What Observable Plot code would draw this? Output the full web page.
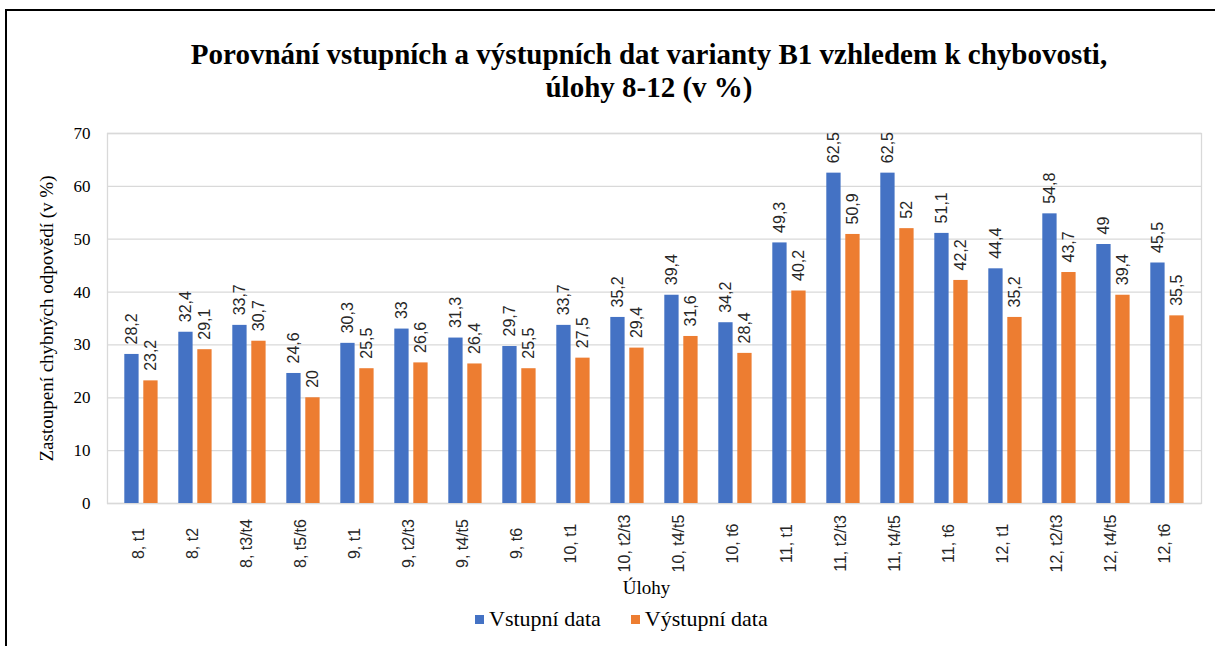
<!DOCTYPE html>
<html>
<head>
<meta charset="utf-8">
<script src="https://cdn.jsdelivr.net/npm/d3@7"></script>
<script src="https://cdn.jsdelivr.net/npm/@observablehq/plot@0.6"></script>
<style>
  html, body { margin: 0; padding: 0; background: #fff; }
  body { position: relative; width: 1215px; height: 646px; overflow: hidden; }
  #border { position: absolute; left: 5px; top: 9px; width: 1400px; height: 800px;
            border-left: 2px solid #000; border-top: 2px solid #000; }
  #title { position: absolute; top: 38px; left: 0; width: 1298px; text-align: center;
           font: bold 29px "Liberation Serif", serif; line-height: 33px; color: #000; }
  #chart { position: absolute; top: 120px; left: 0; }
  #chart svg { font-family: "Liberation Serif", serif !important; font-size: 17px !important; }
  #legend { position: absolute; top: 606px; left: 475px; display: flex; align-items: center;
            font-family: "Liberation Serif", serif; font-size: 22px; color: #000; }
  .item { display: flex; align-items: center; margin-right: 30px; }
  .sw { width: 9px; height: 9px; margin-right: 5px; }
</style>
</head>
<body>
<div id="border"></div>
<div id="title">Porovnání vstupních a výstupních dat varianty B1 vzhledem k chybovosti,<br>úlohy 8-12 (v %)</div>
<div id="chart"></div>
<div id="legend"></div>
<script>
const categories = ["8, t1","8, t2","8, t3/t4","8, t5/t6","9, t1","9, t2/t3","9, t4/t5","9, t6","10, t1","10, t2/t3","10, t4/t5","10, t6","11, t1","11, t2/t3","11, t4/t5","11, t6","12, t1","12, t2/t3","12, t4/t5","12, t6"];
const seriesNames = ["Vstupní data", "Výstupní data"];
const vstupni = [28.2,32.4,33.7,24.6,30.3,33,31.3,29.7,33.7,35.2,39.4,34.2,49.3,62.5,62.5,51.1,44.4,54.8,49,45.5];
const vystupni = [23.2,29.1,30.7,20,25.5,26.6,26.4,25.5,27.5,29.4,31.6,28.4,40.2,50.9,52,42.2,35.2,43.7,39.4,35.5];
const yTicks = [0,10,20,30,40,50,60,70];
const colors = ["#4472C4", "#ED7D31"];
const yTitle = "Zastoupení chybných odpovědí (v %)";
const xTitle = "Úlohy";

const fmt = d => String(d).replace(".", ",");
const sans = "Liberation Sans, Arial, sans-serif";
const serif = "Liberation Serif, serif";

const chart = Plot.plot({
  width: 1215,
  height: 490,
  marginLeft: 107,
  marginRight: 14,
  marginTop: 13,
  marginBottom: 107,
  style: { background: "transparent", color: "#000" },
  x: { type: "band", domain: categories, padding: 0, axis: null },
  y: { domain: [0, 70], ticks: yTicks, tickSize: 0, tickPadding: 17, label: null },
  marks: [
    Plot.ruleY(yTicks, { stroke: "#d9d9d9", strokeWidth: 1.3 }),
    Plot.frame({ stroke: "#d9d9d9", strokeWidth: 1.3 }),
    Plot.barY(vstupni, { x: categories, y: vstupni, fill: colors[0], insetLeft: 10.3, insetRight: 29.4 }),
    Plot.barY(vystupni, { x: categories, y: vystupni, fill: colors[1], insetLeft: 29.3, insetRight: 10.4 }),
    Plot.text(vstupni, { x: categories, y: vstupni, text: fmt, rotate: -90, textAnchor: "start", dy: -10, dx: -9.5,
      fontFamily: sans, fontSize: 16, fill: "#262626" }),
    Plot.text(vystupni, { x: categories, y: vystupni, text: fmt, rotate: -90, textAnchor: "start", dy: -10, dx: 9.5,
      fontFamily: sans, fontSize: 16, fill: "#262626" }),
    Plot.text(categories, { x: categories, frameAnchor: "bottom", text: d => d, rotate: -90, textAnchor: "middle",
      dy: 40, dx: 2, fontFamily: sans, fontSize: 16, fill: "#262626" }),
    Plot.text([yTitle], { frameAnchor: "left", text: d => d, rotate: -90, textAnchor: "middle", dx: -61,
      fontFamily: serif, fontSize: 19, fill: "#000" }),
    Plot.text([xTitle], { frameAnchor: "bottom", text: d => d, dy: 90, dx: -8,
      fontFamily: serif, fontSize: 19, fill: "#000" })
  ]
});
document.getElementById("chart").appendChild(chart);

const legend = document.getElementById("legend");
seriesNames.forEach((name, i) => {
  const item = document.createElement("div");
  item.className = "item";
  const sw = document.createElement("span");
  sw.className = "sw";
  sw.style.background = colors[i];
  const label = document.createElement("span");
  label.textContent = name;
  item.appendChild(sw);
  item.appendChild(label);
  legend.appendChild(item);
});
</script>
</body>
</html>
